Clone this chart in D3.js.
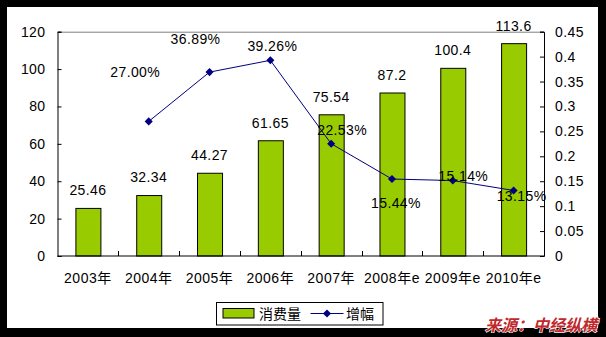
<!DOCTYPE html>
<html>
<head>
<meta charset="utf-8">
<script src="https://cdn.jsdelivr.net/npm/d3@7"></script>
<style>
  html, body { margin: 0; padding: 0; background: #000; }
  svg { display: block; }
  text { font-family: "Liberation Sans", Arial, "Noto Sans CJK SC", sans-serif; }
</style>
</head>
<body>
<svg id="chart" width="606" height="337"></svg>
<script>
// Years (e = estimate)
const years = ["2003年", "2004年", "2005年", "2006年", "2007年", "2008年e", "2009年e", "2010年e"];
// Consumption volume (bars, left axis)
const consumption = [25.46, 32.34, 44.27, 61.65, 75.54, 87.2, 100.4, 113.6];
const consumptionLabels = ["25.46", "32.34", "44.27", "61.65", "75.54", "87.2", "100.4", "113.6"];
// Growth rate (line, right axis); no value for the first year
const growth = [null, 0.27, 0.3689, 0.3926, 0.2253, 0.1544, 0.1514, 0.1315];
const growthLabels = [null, "27.00%", "36.89%", "39.26%", "22.53%", "15.44%", "15.14%", "13.15%"];
// Axis ticks
const leftTicks = [0, 20, 40, 60, 80, 100, 120];
const rightTicks = [0, 0.05, 0.1, 0.15, 0.2, 0.25, 0.3, 0.35, 0.4, 0.45];
const rightTickLabels = ["0", "0.05", "0.1", "0.15", "0.2", "0.25", "0.3", "0.35", "0.4", "0.45"];
// Legend entries
const legendNames = ["消费量", "增幅"];
const sourceText = "来源：中经纵横";

// Hand-placed nudges for the percentage labels, relative to each point
const pctNudge = [null, [-13.5, -49], [-14, -33], [2, -14], [11, -14], [4, 24.5], [10.5, -4], [8, 5.5]];

const svg = d3.select("#chart");
const fontSize = 14;
const textColor = "#000";

// White card inside the black frame
svg.append("rect").attr("x", 7).attr("y", 7).attr("width", 591).attr("height", 321).attr("fill", "#fff");

const plot = { left: 57.5, right: 544, top: 31.7, bottom: 256 };

const x = d3.scaleBand().domain(years).range([plot.left, plot.right]).paddingInner(0).paddingOuter(0);
const yL = d3.scaleLinear().domain([0, 120]).range([plot.bottom, plot.top]);
const yR = d3.scaleLinear().domain([0, 0.45]).range([plot.bottom, plot.top]);

// Top border of plot area
svg.append("line")
  .attr("x1", plot.left).attr("x2", plot.right)
  .attr("y1", plot.top + 0.5).attr("y2", plot.top + 0.5)
  .attr("stroke", "#808080").attr("stroke-width", 1);

// Bars
const barW = 25;
svg.append("g").selectAll("rect")
  .data(consumption)
  .join("rect")
  .attr("x", (d, i) => x(years[i]) + x.bandwidth() / 2 - barW / 2 + 0.5)
  .attr("y", d => yL(d))
  .attr("width", barW)
  .attr("height", d => yL(0) - yL(d))
  .attr("fill", "#99CC00")
  .attr("stroke", "#000")
  .attr("stroke-width", 1);

// Bar value labels
svg.append("g").selectAll("text")
  .data(consumption)
  .join("text")
  .attr("x", (d, i) => x(years[i]) + x.bandwidth() / 2)
  .attr("y", d => yL(d) - 18)
  .attr("dy", "0.35em")
  .attr("text-anchor", "middle")
  .attr("font-size", fontSize)
  .attr("letter-spacing", 0.4)
  .attr("fill", textColor)
  .text((d, i) => consumptionLabels[i]);

// Left axis
const axL = d3.axisLeft(yL).tickValues(leftTicks).tickSize(-4).tickPadding(12).tickFormat(d3.format("d"));
const gL = svg.append("g").attr("transform", `translate(${plot.left},0)`).call(axL);
gL.select(".domain").attr("stroke", "#000");
gL.selectAll(".tick line").attr("stroke", "#000");
gL.selectAll("text").attr("font-size", fontSize).attr("fill", textColor)
  .attr("letter-spacing", 0.4)
  .attr("font-family", '"Liberation Sans", Arial, sans-serif');

// Right axis
const axR = d3.axisRight(yR).tickValues(rightTicks).tickSize(-4).tickPadding(11)
  .tickFormat((d, i) => rightTickLabels[i]);
const gR = svg.append("g").attr("transform", `translate(${plot.right},0)`).call(axR);
gR.select(".domain").attr("stroke", "#000");
gR.selectAll(".tick line").attr("stroke", "#000");
gR.selectAll("text").attr("font-size", fontSize).attr("fill", textColor)
  .attr("letter-spacing", 0.4)
  .attr("font-family", '"Liberation Sans", Arial, sans-serif');

// Bottom axis: ticks at category boundaries, pointing into the plot
const gB = svg.append("g").attr("transform", `translate(0,${plot.bottom})`);
gB.append("line").attr("x1", plot.left).attr("x2", plot.right).attr("y1", 0).attr("y2", 0)
  .attr("stroke", "#000");
gB.selectAll("line.tk")
  .data(years.slice(1))
  .join("line")
  .attr("class", "tk")
  .attr("x1", d => Math.round(x(d)) + 0.5).attr("x2", d => Math.round(x(d)) + 0.5)
  .attr("y1", 0).attr("y2", -5)
  .attr("stroke", "#000");
gB.selectAll("text")
  .data(years)
  .join("text")
  .attr("x", d => x(d) + x.bandwidth() / 2)
  .attr("y", 22)
  .attr("dy", "0.35em")
  .attr("text-anchor", "middle")
  .attr("font-size", fontSize)
  .attr("letter-spacing", 0.5)
  .attr("fill", textColor)
  .text(d => d);

// Growth line
const pts = growth.map((g, i) => g == null ? null : [x(years[i]) + x.bandwidth() / 2, yR(g)]).filter(p => p);
svg.append("path")
  .attr("d", d3.line()(pts))
  .attr("fill", "none")
  .attr("stroke", "#000080")
  .attr("stroke-width", 1);

const diamond = d3.symbol().type(d3.symbolDiamond2).size(42);
svg.append("g").selectAll("path")
  .data(pts)
  .join("path")
  .attr("transform", d => `translate(${d[0]},${d[1]})`)
  .attr("d", diamond)
  .attr("fill", "#000080");

// Growth labels
svg.append("g").selectAll("text")
  .data(growth.map((g, i) => ({ g, i })).filter(d => d.g != null))
  .join("text")
  .attr("x", d => x(years[d.i]) + x.bandwidth() / 2 + pctNudge[d.i][0])
  .attr("y", d => yR(d.g) + pctNudge[d.i][1])
  .attr("dy", "0.35em")
  .attr("text-anchor", "middle")
  .attr("font-size", fontSize)
  .attr("letter-spacing", 0.4)
  .attr("fill", textColor)
  .text(d => growthLabels[d.i]);

// Legend
const lg = svg.append("g");
lg.append("rect").attr("x", 216.5).attr("y", 302.5).attr("width", 166.5).attr("height", 22.5)
  .attr("fill", "#fff").attr("stroke", "#000");
lg.append("rect").attr("x", 223).attr("y", 308.5).attr("width", 31).attr("height", 9.5)
  .attr("fill", "#99CC00").attr("stroke", "#000");
lg.append("text").attr("x", 259).attr("y", 314).attr("dy", "0.35em")
  .attr("font-size", fontSize).attr("fill", textColor).text(legendNames[0]);
lg.append("line").attr("x1", 310.5).attr("x2", 343.5).attr("y1", 313.5).attr("y2", 313.5)
  .attr("stroke", "#000080");
lg.append("path").attr("transform", "translate(327,313.5)").attr("d", diamond).attr("fill", "#000080");
lg.append("text").attr("x", 346).attr("y", 314).attr("dy", "0.35em")
  .attr("font-size", fontSize).attr("fill", textColor).text(legendNames[1]);

// Source note
svg.append("text")
  .attr("x", 597).attr("y", 325).attr("dy", "0.35em")
  .attr("text-anchor", "end")
  .attr("font-size", 16)
  .attr("font-weight", "bold")
  .attr("font-style", "italic")
  .attr("font-family", '"Noto Sans CJK SC", sans-serif')
  .attr("fill", "#C0282C")
  .attr("stroke", "#fff").attr("stroke-width", 1.2).attr("paint-order", "stroke")
  .text(sourceText);
</script>
</body>
</html>
